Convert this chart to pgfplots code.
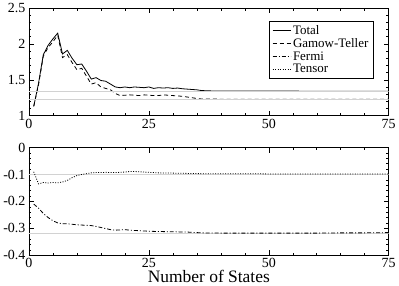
\documentclass[border=0pt]{standalone}
\usepackage{fontspec}
\setmainfont{Liberation Serif}
\usepackage{pgfplots}
\pgfplotsset{compat=1.18}
\pgfplotsset{
  panel/.style={
    width=361pt, height=108pt, scale only axis,
    xmin=0, xmax=75, xtick={0,25,50,75}, minor x tick num=4,
    minor y tick num=4,
    tick align=inside,
    major tick length=5pt, minor tick length=2.5pt,
    every tick/.style={black, line width=0.5pt},
    axis line style={line width=0.6pt},
    tick label style={font=\fontsize{14}{16}\selectfont},
    /pgf/number format/assume math mode=true,
    every axis plot/.append style={line width=0.8pt, black},
  }
}
\begin{document}
\begin{tikzpicture}
\begin{axis}[panel, name=top,
  ymin=1, ymax=2.5, ytick={1,1.5,2,2.5},
  legend style={at={(0.958,0.877)}, anchor=north east, font=\fontsize{13}{14}\selectfont,
    draw=black, line width=0.5pt, row sep=-1.5pt, inner xsep=3pt, inner ysep=2pt},
  legend cell align=left,
  legend image code/.code={\draw[#1] (0pt,0pt) -- (18pt,0pt);},
]
\addplot[solid] coordinates {
(1,1.13)(2,1.45)(3,1.85)(4,1.98)(5,2.07)(6,2.15)(7,1.86)(8,1.91)(9,1.80)(10,1.71)
(11,1.72)(12,1.62)(13,1.51)(14,1.53)(15,1.49)(16,1.48)(17,1.44)(18,1.40)(19,1.39)(20,1.40)
(21,1.39)(22,1.40)(23,1.395)(24,1.39)(25,1.40)(26,1.38)(27,1.39)(28,1.385)(29,1.39)(30,1.38)
(31,1.385)(32,1.375)(33,1.37)(34,1.365)(35,1.36)(36,1.35)(38,1.345)(40,1.345)(45,1.345)
(50,1.342)(55,1.342)(60,1.341)(65,1.341)(70,1.34)(75,1.34)};
\addlegendentry{Total}
\addplot[dash pattern=on 4pt off 3pt] coordinates {
(1,1.13)(2,1.43)(3,1.83)(4,1.95)(5,2.03)(6,2.12)(7,1.81)(8,1.85)(9,1.74)(10,1.64)
(11,1.66)(12,1.55)(13,1.44)(14,1.46)(15,1.40)(16,1.38)(17,1.36)(18,1.31)(19,1.28)(20,1.285)
(21,1.29)(22,1.285)(23,1.28)(24,1.29)(25,1.285)(26,1.28)(27,1.28)(28,1.29)(29,1.285)(30,1.28)
(31,1.275)(32,1.27)(33,1.26)(34,1.25)(35,1.24)(36,1.232)(40,1.23)(45,1.23)(50,1.23)
(55,1.228)(60,1.228)(65,1.228)(70,1.227)(75,1.227)};
\addlegendentry{Gamow-Teller}
\addlegendimage{dash pattern=on 4pt off 2pt on 1pt off 2pt}
\addlegendentry{Fermi}
\addlegendimage{dash pattern=on 1pt off 1.5pt}
\addlegendentry{Tensor}
\addplot[gray!35, line width=0.6pt, forget plot] coordinates {(0,1.34)(75,1.34)};
\addplot[gray!35, line width=0.6pt, forget plot] coordinates {(0,1.228)(75,1.228)};
\end{axis}
\begin{axis}[panel, at={(top.south west)}, anchor=north west, yshift=-32pt,
  ymin=-0.4, ymax=0, ytick={-0.4,-0.3,-0.2,-0.1,0},
  xlabel={Number of States},
  xlabel style={font=\fontsize{17.5}{19}\selectfont, yshift=5pt},
]
\addplot[gray!35, line width=0.6pt] coordinates {(0,-0.098)(75,-0.098)};
\addplot[gray!35, line width=0.6pt] coordinates {(0,-0.32)(75,-0.32)};
\addplot[dash pattern=on 1pt off 1.5pt] coordinates {
(1,-0.09)(2,-0.135)(3,-0.13)(4,-0.132)(5,-0.13)(6,-0.131)(7,-0.128)(8,-0.122)(9,-0.112)(10,-0.104)
(11,-0.100)(12,-0.097)(13,-0.094)(14,-0.093)(15,-0.093)(16,-0.092)(17,-0.093)(18,-0.093)(19,-0.092)(20,-0.091)
(21,-0.089)(22,-0.089)(23,-0.090)(24,-0.091)(25,-0.092)(27,-0.094)(30,-0.095)(33,-0.096)(36,-0.097)
(40,-0.097)(45,-0.097)(50,-0.098)(55,-0.098)(60,-0.098)(65,-0.098)(70,-0.098)(75,-0.098)};
\addplot[dash pattern=on 4pt off 2pt on 1pt off 2pt] coordinates {
(1,-0.21)(2,-0.225)(3,-0.245)(4,-0.26)(5,-0.272)(6,-0.28)(7,-0.283)(8,-0.283)(9,-0.285)(10,-0.287)
(11,-0.288)(12,-0.289)(13,-0.29)(14,-0.293)(15,-0.297)(16,-0.301)(17,-0.305)(18,-0.307)(19,-0.306)(20,-0.305)
(21,-0.307)(22,-0.308)(23,-0.309)(24,-0.310)(25,-0.311)(27,-0.312)(30,-0.313)(33,-0.314)(36,-0.317)
(40,-0.318)(45,-0.318)(50,-0.318)(55,-0.318)(60,-0.318)(65,-0.317)(70,-0.317)(75,-0.316)};
\end{axis}
\end{tikzpicture}
\end{document}
